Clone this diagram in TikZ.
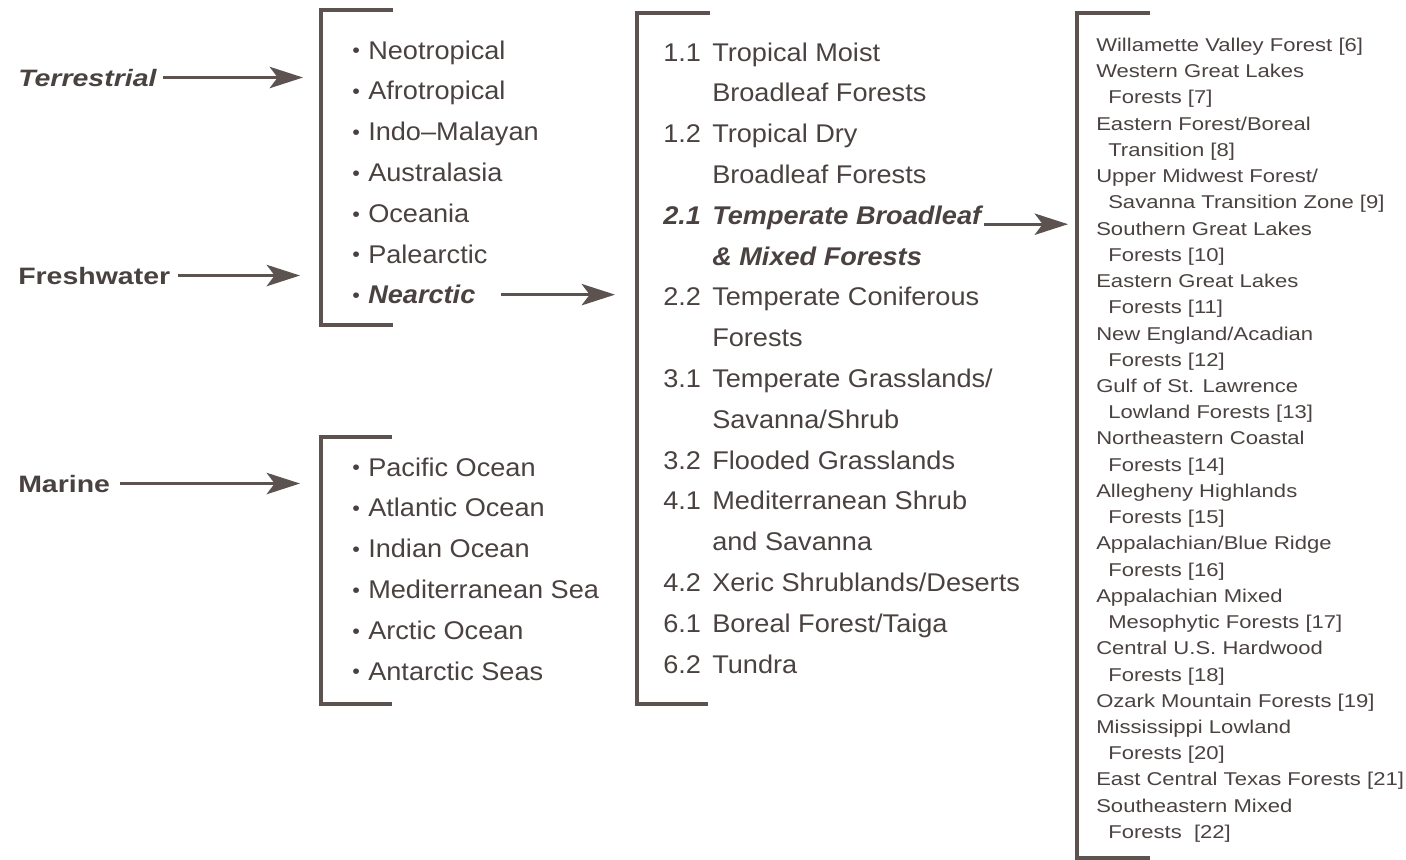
\documentclass[tikz,border=0pt]{standalone}
\usepackage{graphicx}
\usepackage{fontspec}
\setmainfont{Liberation Sans}
\newfontfamily\listfont[FakeStretch=1.06]{Liberation Sans}
\newfontfamily\ecofont[FakeStretch=1.19]{Liberation Sans}
\newfontfamily\headfont[FakeStretch=1.2]{Liberation Sans}
\usetikzlibrary{arrows.meta}
\definecolor{ink}{RGB}{74, 66, 64}
\definecolor{rule}{RGB}{92, 82, 80}
\newcommand{\dotmark}{\makebox[12pt][l]{\raisebox{0.04em}{\scalebox{0.8}{\textbullet}}}}
\tikzset{%
    bracket/.style={draw=rule, line width=2.3pt},
    feed/.style={draw=rule, line width=2.3pt,
        -{Stealth[length=25pt, width=16pt, inset=6pt]}},
    kind/.style={anchor=base west, inner sep=0pt, text=ink,
        font=\headfont\fontsize{17.8}{20}\selectfont\bfseries},
    listline/.style={anchor=base west, inner sep=0pt, text=ink,
        font=\listfont\fontsize{19.2}{23}\selectfont},
    ecoline/.style={anchor=base west, inner sep=0pt, text=ink,
        font=\ecofont\fontsize{13.9}{16}\selectfont}
}

\begin{document}
\begin{tikzpicture}[x=0.75pt, y=-0.75pt]

    \useasboundingbox (0, 0) rectangle (1406, 860);

    % brackets round the lists
    \draw[bracket] (393, 10) -- (321, 10) -- (321, 325) -- (393, 325);
    \draw[bracket] (392, 437) -- (321, 437) -- (321, 704) -- (392, 704);
    \draw[bracket] (710, 13) -- (637, 13) -- (637, 704) -- (708, 704);
    \draw[bracket] (1150, 13) -- (1077, 13) -- (1077, 858) -- (1150, 858);

    % kinds of ecoregions
    \node[kind] (terr) at (18, 86) {\itshape Terrestrial};
    \node[kind] (fresh) at (18, 284) {Freshwater};
    \node[kind] (marine) at (18, 492) {Marine};

    % realms
    \foreach \reg [count=\k from 0] in {Neotropical, Afrotropical,
        Indo–Malayan, Australasia, Oceania, Palearctic,
        {\bfseries\itshape Nearctic}}{%
        \node[listline] (realm-\k) at (352, 59 + 40.8*\k) {\dotmark\reg};
    };

    % oceans
    \foreach \sea [count=\k from 0] in {Pacific Ocean, Atlantic Ocean,
        Indian Ocean, Mediterranean Sea, Arctic Ocean, Antarctic Seas}{%
        \node[listline] (sea-\k) at (352, 476 + 40.8*\k) {\dotmark\sea};
    };

    % major habitat types
    \foreach \num/\txt [count=\k from 0] in {1.1/Tropical Moist,
        /Broadleaf Forests, 1.2/Tropical Dry, /Broadleaf Forests,
        {\bfseries\itshape 2.1}/{\bfseries\itshape Temperate Broadleaf},
        /{\bfseries\itshape \& Mixed Forests},
        2.2/Temperate Coniferous, /Forests,
        3.1/{Temperate Grasslands/}, /{Savanna/Shrub},
        3.2/Flooded Grasslands, 4.1/Mediterranean Shrub, /and Savanna,
        4.2/{Xeric Shrublands/Deserts}, 6.1/{Boreal Forest/Taiga},
        6.2/Tundra}{%
        \node[listline] (biome-\k) at (663, 61 + 40.8*\k)
            {\makebox[36.75pt][l]{\num}\txt};
    };

    % ecoregions
    \foreach \txt/\ind [count=\k from 0] in {
        Willamette Valley Forest [6]/0, Western Great Lakes/0,
        Forests [7]/12, {Eastern Forest/Boreal}/0, Transition [8]/12,
        {Upper Midwest Forest/}/0, Savanna Transition Zone [9]/12,
        Southern Great Lakes/0, Forests [10]/12,
        Eastern Great Lakes/0, Forests [11]/12,
        {New England/Acadian}/0, Forests [12]/12,
        Gulf of St. Lawrence/0, Lowland Forests [13]/12,
        Northeastern Coastal/0, Forests [14]/12,
        Allegheny Highlands/0, Forests [15]/12,
        {Appalachian/Blue Ridge}/0, Forests [16]/12,
        Appalachian Mixed/0, Mesophytic Forests [17]/12,
        Central U.S. Hardwood/0, Forests [18]/12,
        Ozark Mountain Forests [19]/0,
        Mississippi Lowland/0, Forests [20]/12,
        East Central Texas Forests [21]/0,
        Southeastern Mixed/0, Forests\ \ [22]/12}{%
        \node[ecoline] (eco-\k) at (1096 + \ind, 51.5 + 26.23*\k) {\txt};
    };

    % arrows
    \coordinate (terr-tip) at (303, 79);
    \coordinate (fresh-tip) at (300, 277);
    \coordinate (marine-tip) at (300, 486);
    \coordinate (realm-tip) at (615, 298);
    \coordinate (biome-tip) at (1068, 224);

    \draw[feed] ([xshift=5pt] terr.east) -- (terr.east -| terr-tip);
    \draw[feed] ([xshift=6pt] fresh.east) -- (fresh.east -| fresh-tip);
    \draw[feed] ([xshift=7pt] marine.east) -- (marine.east -| marine-tip);
    \draw[feed] ([xshift=19pt] realm-6.east) -- (realm-6.east -| realm-tip);
    \draw[feed] ([xshift=2pt] biome-4.base east)
        -- (biome-4.base east -| biome-tip);

\end{tikzpicture}
\end{document}
